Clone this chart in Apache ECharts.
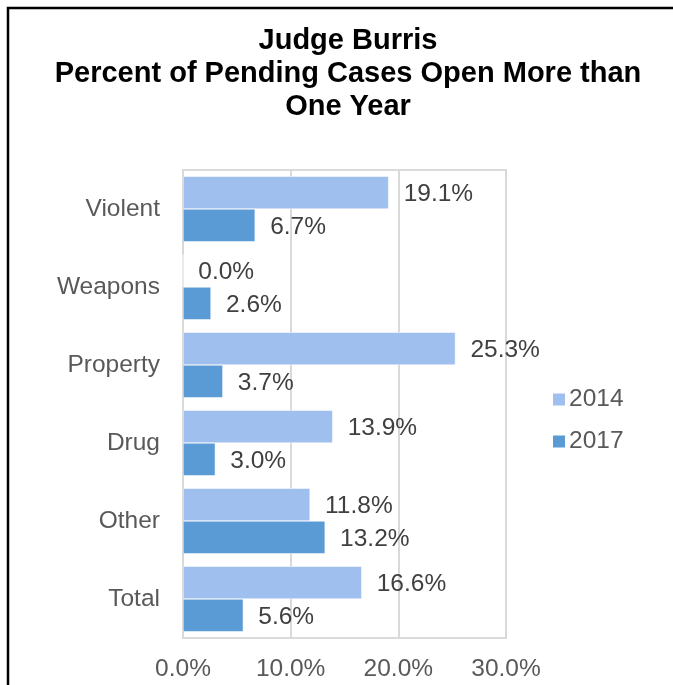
<!DOCTYPE html>
<html><head><meta charset="utf-8">
<script src="https://cdn.jsdelivr.net/npm/echarts@6/dist/echarts.min.js"></script>
<style>html,body{margin:0;padding:0;background:#fff}#c{width:673px;height:685px}</style>
</head><body><div id="c"></div>
<script>
const categories = ["Violent", "Weapons", "Property", "Drug", "Other", "Total"];
const values2014 = [19.1, 0.0, 25.3, 13.9, 11.8, 16.6];
const values2017 = [6.7, 2.6, 3.7, 3.0, 13.2, 5.6];
const seriesNames = ["2014", "2017"];
const xTicks = [0, 10, 20, 30];

const chart = echarts.init(document.getElementById('c'));
const font = '"Liberation Sans", Arial, sans-serif';
const labelCfg = {
  show: true, position: 'right', distance: 15, offset: [0, 2],
  fontFamily: font, fontSize: 24.5, color: '#404040',
  formatter: p => p.value.toFixed(1) + '%'
};
chart.setOption({
  animation: false,
  title: {
    text: 'Judge Burris\nPercent of Pending Cases Open More than\nOne Year',
    left: 343, textAlign: 'center', top: 19,
    textStyle: { fontFamily: font, fontWeight: 'bold', fontSize: 29, lineHeight: 33, color: '#000' }
  },
  legend: {
    orient: 'vertical', left: 546, top: 382, itemGap: 17,
    itemWidth: 14, itemHeight: 14, icon: 'rect',
    textStyle: { fontFamily: font, fontSize: 24.5, color: '#595959', padding: [0,0,0,-2] },
    data: seriesNames
  },
  grid: { left: 183, right: 167, top: 170, bottom: 47, show: true, borderColor: '#d9d9d9', borderWidth: 2, containLabel: false },
  xAxis: {
    type: 'value', min: 0, max: 30, interval: 10,
    axisLabel: { fontFamily: font, fontSize: 24.5, color: '#595959', margin: 19, formatter: v => v.toFixed(1) + '%' },
    splitLine: { lineStyle: { color: '#d9d9d9', width: 2 } },
    axisLine: { show: false }, axisTick: { show: false }
  },
  yAxis: {
    type: 'category', data: categories, inverse: true,
    axisLabel: { fontFamily: font, fontSize: 24.5, color: '#595959', margin: 23 },
    axisLine: { lineStyle: { color: '#d9d9d9', width: 2 } },
    axisTick: { show: false }
  },
  series: [
    { name: seriesNames[0], type: 'bar', data: values2014, barGap: '0%', barCategoryGap: '16%',
      itemStyle: { color: '#9fbfee', borderColor: '#ffffff', borderWidth: 0.5 }, label: labelCfg },
    { name: seriesNames[1], type: 'bar', data: values2017,
      itemStyle: { color: '#5b9bd5', borderColor: '#ffffff', borderWidth: 0.5 }, label: labelCfg }
  ],
  graphic: [
    { type: 'polyline', shape: { points: [[8, 685], [8, 8], [673, 8]] }, style: { stroke: '#000', lineWidth: 2.5, fill: null } }
  ]
});
</script></body></html>
